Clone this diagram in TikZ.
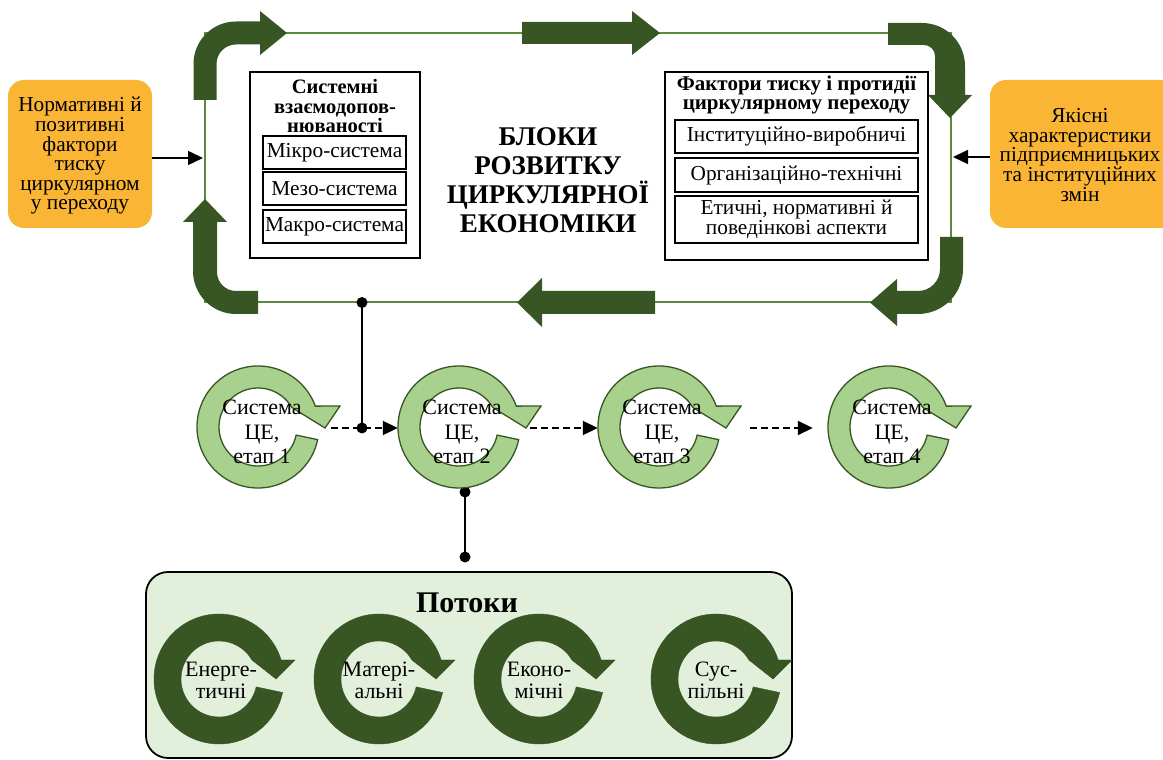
\documentclass[tikz,border=0pt]{standalone}
\usepackage{fontspec}
\setmainfont{Liberation Serif}
\usetikzlibrary{arrows.meta}
\definecolor{dkgreen}{HTML}{375623}
\definecolor{ltgreen}{HTML}{A9D18E}
\definecolor{loopgreen}{HTML}{5A8A3C}
\definecolor{orangef}{HTML}{FBB535}
\definecolor{flowbg}{HTML}{E2EFDA}
\begin{document}
\begin{tikzpicture}[x=1pt,y=1pt,
  orangebox/.style={fill=orangef, rounded corners=16pt, inner sep=0pt},
  orangetext/.style={align=center, font=\fontsize{21.3}{19.6}\selectfont},
  frame/.style={draw=black, line width=1.6pt, inner sep=0pt},
  subbox/.style={draw=black, line width=2pt, inner sep=0pt, align=center,
    font=\fontsize{21.3}{20}\selectfont},
  boxtitle/.style={align=center, font=\bfseries\fontsize{20.5}{19.3}\selectfont},
  ringtext/.style={align=center, font=\fontsize{22}{24.5}\selectfont, inner sep=0pt},
  flowtext/.style={align=center, font=\fontsize{22}{22}\selectfont, inner sep=0pt},
  holder/.style={circle, minimum size=122pt, inner sep=0pt},
  bigarrow/.style={fill=dkgreen},
  loopline/.style={draw=loopgreen, line width=2pt},
  conn/.style={draw=black, line width=1.6pt},
  inarrow/.style={draw=black, line width=1.5pt, -{Triangle[length=15pt,width=14pt]}},
  dasharrow/.style={draw=black, line width=1.8pt, dash pattern=on 6.5pt off 4.5pt,
    -{Triangle[length=15pt,width=14pt]}},
  % light stage ring with its arrow head at the upper right
  ringarrow/.pic={
    \path[pic actions]
      (-12:61pt) arc[start angle=-12,end angle=-340,radius=61pt]
      -- (82pt,21pt) -- (67pt,-1pt) -- (30:39pt)
      arc[start angle=30,end angle=348,radius=39pt] -- cycle;
  },
  % heavier ring used for the flows
  flowring/.pic={
    \path[pic actions]
      (-12:65pt) arc[start angle=-12,end angle=-343,radius=65pt]
      -- (76pt,19pt) -- (57pt,0pt) -- (30:38pt)
      arc[start angle=30,end angle=348,radius=38pt] -- cycle;
  }
]
\clip (0,0) rectangle (1163,760);

% ---- the development loop ----
\coordinate (lt) at (205,727);
\coordinate (rt) at (951,727);
\coordinate (rb) at (951,457.5);
\coordinate (lb) at (205,457.5);
\draw[loopline] (lt) -- (rt) -- (rb) -- (lb) -- cycle;

% top-left bent arrow (up, then right)
\fill[bigarrow] (193.5,660) -- (193.5,696) arc[start angle=180,end angle=90,radius=42.5pt]
  -- (260,738.5) -- (260,749) -- (287,727) -- (260,705) -- (260,715.5) -- (236,715.5)
  arc[start angle=90,end angle=180,radius=19.5pt] -- (216.5,660) -- cycle;
% top straight arrow
\fill[bigarrow] (522,716) -- (632,716) -- (632,705) -- (660,727) -- (632,749)
  -- (632,738) -- (522,738) -- cycle;
% top-right bent arrow (right, then down)
\fill[bigarrow] (888,737) -- (922,737) arc[start angle=90,end angle=0,radius=43pt]
  -- (965,665) -- (972,665) -- (950,642) -- (928,665) -- (935,665) -- (935,704)
  arc[start angle=0,end angle=90,radius=11pt] -- (888,715) -- cycle;
% bottom-right bent arrow (down, then left)
\fill[bigarrow] (940,523) -- (963,523) -- (963,491) arc[start angle=0,end angle=-90,radius=45pt]
  -- (897,446) -- (897,434) -- (870,457.5) -- (897,481) -- (897,469) -- (918,469)
  arc[start angle=-90,end angle=0,radius=22pt] -- cycle;
% bottom straight arrow
\fill[bigarrow] (655,446) -- (542,446) -- (542,433) -- (517,457.5) -- (542,482)
  -- (542,469) -- (655,469) -- cycle;
% bottom-left bent arrow (left, then up)
\fill[bigarrow] (258,469) -- (236,469) arc[start angle=270,end angle=180,radius=19pt]
  -- (217,538) -- (227,538) -- (205,561) -- (183,538) -- (193,538) -- (193,489)
  arc[start angle=180,end angle=270,radius=43pt] -- (258,446) -- cycle;

% ---- outer driving factors ----
\node[orangebox, minimum width=144pt, minimum height=148pt] (nl) at (80,606) {};
\node[orangetext] (nlt) at (80,604)
  {Нормативні й\\позитивні\\фактори\\тиску\\циркулярном\\у переходу};
\node[orangebox, minimum width=200pt, minimum height=148pt] (nr) at (1090,606) {};
\node[orangetext] (nrt) at (1080,605)
  {Якісні\\характеристики\\підприємницьких\\та інституційних\\змін};
\coordinate (lin) at (203,602);
\coordinate (rin) at (953,603);
\draw[inarrow] (nl.east |- lin) -- (lin);
\draw[inarrow] (nr.west |- rin) -- (rin);

% ---- blocks inside the loop ----
\node[frame, minimum width=170pt, minimum height=186pt] (sys) at (335,595) {};
\node[boxtitle] (systitle) at (335,654) {Системні\\взаємодопов-\\нюваності};
\node[subbox, minimum width=143pt, minimum height=33pt] (micro) at (334.5,607.5) {Мікро-система};
\node[subbox, minimum width=143pt, minimum height=33pt] (meso) at (334.5,571.5) {Мезо-система};
\node[subbox, minimum width=143pt, minimum height=33pt] (macro) at (334.5,533.5) {Макро-система};

\node[frame, minimum width=263pt, minimum height=188pt] (fac) at (796.5,594) {};
\node[boxtitle, font=\bfseries\fontsize{21}{19.5}\selectfont] (factitle) at (796.5,665)
  {Фактори тиску і протидії\\циркулярному переходу};
\node[subbox, minimum width=243pt, minimum height=33pt] (inst) at (796.5,623.5) {Інституційно-виробничі};
\node[subbox, minimum width=243pt, minimum height=34pt] (org) at (796.5,585) {Організаційно-технічні};
\node[subbox, minimum width=243pt, minimum height=47pt] (eth) at (796.5,540.5) {Етичні, нормативні й\\поведінкові аспекти};

\node[align=center, font=\bfseries\fontsize{27}{29}\selectfont] (title) at (548,580)
  {БЛОКИ\\РОЗВИТКУ\\ЦИРКУЛЯРНОЇ\\ЕКОНОМІКИ};

% ---- stages of the circular economy system ----
\node[holder] (s1) at (258,333) {};
\node[holder] (s2) at (459,333) {};
\node[holder] (s3) at (659,333) {};
\node[holder] (s4) at (889,333) {};

\coordinate (j1) at (362,457.5);
\coordinate (j2) at (362,332);
\coordinate (d1) at (465,268);
\coordinate (d2) at (465,203);
\draw[conn] (j1) -- (j2);
\draw[conn] (d1) -- (d2);
\fill (d1) circle (5.5pt);
\fill (d2) circle (5.5pt);

\foreach \s in {s1,s2,s3,s4}
  \pic[fill=ltgreen, draw=dkgreen, line width=1.3pt] at (\s) {ringarrow};

\draw[dasharrow] ([xshift=12pt,yshift=-1pt]s1.east) -- ([yshift=-1pt]s2.west);
\draw[dasharrow] ([xshift=10pt,yshift=-1pt]s2.east) -- ([yshift=-1pt]s3.west);
\draw[dasharrow] ([xshift=30pt,yshift=-1pt]s3.east) -- ([xshift=-15pt,yshift=-1pt]s4.west);
\fill (j1) circle (5.5pt);
\fill (j2) circle (5.5pt);

\node[ringtext] (t1) at ([xshift=4pt,yshift=-5pt]s1.center) {Система\\ЦЕ,\\етап 1};
\node[ringtext] (t2) at ([xshift=3pt,yshift=-5pt]s2.center) {Система\\ЦЕ,\\етап 2};
\node[ringtext] (t3) at ([xshift=3pt,yshift=-5pt]s3.center) {Система\\ЦЕ,\\етап 3};
\node[ringtext] (t4) at ([xshift=3pt,yshift=-5pt]s4.center) {Система\\ЦЕ,\\етап 4};

% ---- flows ----
\node[draw=black, line width=1.8pt, fill=flowbg, rounded corners=22pt,
  minimum width=646pt, minimum height=186pt] (flows) at (469,95) {};
\node[font=\bfseries\fontsize{30}{30}\selectfont] (flowtitle) at (467,157) {Потоки};
\coordinate (f1) at (219,81);
\coordinate (f2) at (379,81);
\coordinate (f3) at (539,81);
\coordinate (f4) at (716,81);
\foreach \f in {f1,f2,f3,f4}
  \pic[fill=dkgreen, draw=dkgreen] at (\f) {flowring};
\node[flowtext] (e1) at ([xshift=2pt,yshift=-1pt]f1) {Енерге-\\тичні};
\node[flowtext] (e2) at ([xshift=0pt,yshift=-1pt]f2) {Матері-\\альні};
\node[flowtext] (e3) at ([xshift=0pt,yshift=-1pt]f3) {Еконо-\\мічні};
\node[flowtext] (e4) at ([xshift=0pt,yshift=-1pt]f4) {Сус-\\пільні};
\end{tikzpicture}
\end{document}
